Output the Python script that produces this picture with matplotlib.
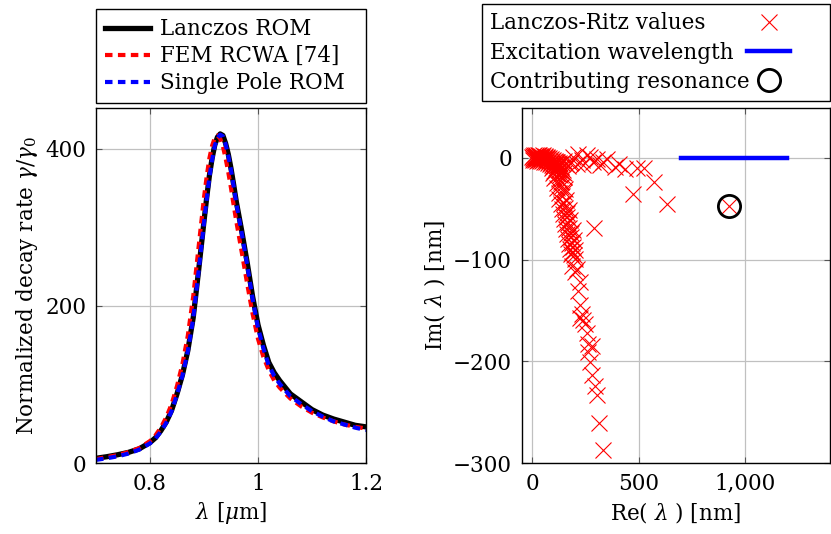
import numpy as np
import matplotlib
matplotlib.use('Agg')
import matplotlib.pyplot as plt
from matplotlib.ticker import FuncFormatter
from matplotlib.legend_handler import HandlerLine2D

# left panel: decay rate curves
lam_um = [0.70, 0.72, 0.74, 0.76, 0.78, 0.80, 0.81, 0.82, 0.83, 0.84, 0.85, 0.86,
          0.87, 0.88, 0.89, 0.90, 0.905, 0.91, 0.915, 0.92, 0.925, 0.93, 0.935, 0.94,
          0.945, 0.95, 0.955, 0.96, 0.97, 0.98, 0.99, 1.00, 1.01, 1.02, 1.03, 1.04,
          1.06, 1.08, 1.10, 1.12, 1.14, 1.16, 1.18, 1.20]
lanczos_rom = [6, 8, 10.5, 13.5, 18, 26, 32, 41, 52, 67, 88, 112,
               143, 185, 245, 308, 338, 366, 388, 405, 415, 419, 417, 407,
               393, 375, 354, 332, 295, 255, 212, 176, 150, 128, 115, 105,
               88, 78, 68, 61, 56, 52, 48, 46]
fem_rcwa = [5, 7.5, 10, 14, 19, 28, 35, 45, 58, 75, 98, 126,
            162, 212, 275, 338, 365, 388, 404, 414, 417, 413, 403, 388,
            370, 350, 328, 307, 268, 228, 190, 158, 135, 118, 105, 96,
            82, 72, 64, 58, 53, 49, 46, 44]
single_pole = [4, 6, 8.5, 12, 17, 25, 31, 40, 51, 66, 87, 111,
               142, 184, 244, 306, 336, 364, 386, 404, 414, 418, 416, 406,
               391, 373, 352, 330, 292, 252, 209, 172, 146, 124, 111, 101,
               85, 75, 66, 59, 53, 49, 45, 42]

# right panel: Lanczos-Ritz values (Re, Im) in nm, grouped by region of the cloud
wedge_re = [0, 3, 6, 10, 13, 16, 20, 24, 28, 32, 36, 40, 44, 48, 52, 56, 60, 64, 68, 72,
            76, 80, 85, 90, 95, 100, 105, 110, 115, 120, 150, 160, 170, 180,
            2, 8, 14, 18, 22, 26, 30, 34, 38, 42, 46, 50, 54, 58, 62, 66, 70, 74, 78, 82,
            88, 92, 98, 102, 108, 112, 118, 125]
wedge_im = [1, 0, 2, -1, 1, 0, 2, -1, 1, 0, 2, -1, 0, 1, -2, 0, 1, -1, -2, 0,
            -1, -3, -2, -4, -3, -5, -4, -6, -7, -8, -3, -6, -8, -5,
            -2, 3, -2, 3, -3, 3, -2, 3, -3, 2, -3, 3, -1, -4, 2, -4, 1, -5, 0, -6,
            -1, -7, -2, -8, -3, -10, -4, -5]
band_re = [90, 110, 130, 140, 95, 115, 135, 145, 100, 120, 140, 150, 105, 125, 150, 115, 135, 155,
           125, 142, 160, 140, 155, 172, 150, 165, 180, 160, 175, 190, 170, 183, 195, 180, 192, 200,
           100, 120, 105, 125, 110, 130, 118, 138, 128, 148, 135, 152, 145, 162, 155, 170, 165, 182,
           175, 188, 185, 196]
band_im = [-5, -4, -6, -5, -10, -11, -9, -12, -15, -16, -14, -15, -20, -21, -19, -30, -29, -31,
           -40, -38, -41, -50, -49, -51, -60, -58, -61, -70, -69, -71, -80, -78, -81, -90, -88, -91,
           -8, -7, -13, -12, -18, -17, -25, -24, -35, -34, -45, -44, -55, -54, -65, -64, -75, -74,
           -85, -84, -95, -96]
flat_re = [193, 233, 256, 288, 319, 350, 390, 437, 492, 524, 185, 217, 272, 303, 335, 406, 209, 240,
           571, 473, 634, 292]
flat_im = [1, -2, 3, -4, -7, -1, -9, -11, -10, -10, -4, 4, 1, -1, -4, -6, -6, -7,
           -24, -36, -45, -69]
tail_re = [186, 201, 186, 209, 201, 225, 217, 225, 233, 240, 225, 248, 256, 264, 280, 264, 272, 280,
           296, 303, 316, 332, 923]
tail_im = [-93, -99, -106, -109, -112, -122, -131, -145, -154, -159, -157, -163, -172, -183, -185,
           -191, -201, -213, -224, -233, -261, -287, -47]

exc_re = [700, 1200]
exc_im = [0, 0]
res_re = [923]
res_im = [-47]

plt.rcParams['font.family'] = 'DejaVu Serif'
plt.rcParams['mathtext.fontset'] = 'dejavuserif'
plt.rcParams['font.size'] = 15.5

fig = plt.figure(figsize=(8.31, 5.34), dpi=100)
W, H = 831, 534


class RightMarker(HandlerLine2D):
    # put the legend marker towards the right end of the handle box
    def get_xdata(self, legend, xdescent, ydescent, width, height, fontsize):
        xdata, _ = super().get_xdata(legend, xdescent, ydescent, width, height, fontsize)
        return xdata, np.array([-xdescent + 0.8 * width])


def style_axes(ax):
    ax.grid(True, color='#c0c0c0', linewidth=0.9)
    ax.set_axisbelow(True)
    ax.tick_params(direction='in', length=4, width=0.8, top=True, right=True,
                   color='#555555', pad=7)
    for s in ax.spines.values():
        s.set_linewidth(1.0)

# ---- left panel ----
ax1 = fig.add_axes([96 / W, (H - 463) / H, 270 / W, 355 / H])
ax1.plot(lam_um, lanczos_rom, color='black', linewidth=3.8, label='Lanczos ROM')
ax1.plot(lam_um, fem_rcwa, color='red', linewidth=3.0, dashes=(1.8, 1.3),
         label='FEM RCWA [74]')
ax1.plot(lam_um, single_pole, color='blue', linewidth=3.0, dashes=(1.8, 1.3),
         label='Single Pole ROM')
ax1.set_xlim(0.7, 1.2)
ax1.set_ylim(0, 452)
ax1.set_xticks([0.8, 1.0, 1.2])
ax1.set_yticks([0, 200, 400])
ax1.xaxis.set_major_formatter(FuncFormatter(lambda v, p: f'{v:g}'))
ax1.set_xlabel(r'$\lambda$ [$\mu$m]')
ax1.set_ylabel(r'Normalized decay rate $\gamma/\gamma_0$')
style_axes(ax1)
leg1 = ax1.legend(loc='lower left', bbox_to_anchor=(96 / W, (H - 103) / H, 270 / W, 95 / H),
                  bbox_transform=fig.transFigure, mode='expand', borderaxespad=0,
                  fancybox=False, edgecolor='black', framealpha=1,
                  handlelength=2.1, handletextpad=0.45, labelspacing=0.24, borderpad=0.4)
leg1.get_frame().set_linewidth(1.0)

# ---- right panel ----
ax2 = fig.add_axes([521.5 / W, (H - 463) / H, 308.5 / W, 355 / H])
mk = dict(color='red', linestyle='none', marker='x', markersize=11, markeredgewidth=0.8)
ritz_line, = ax2.plot(wedge_re, wedge_im, label='Lanczos-Ritz values', **mk)
ax2.plot(band_re, band_im, **mk)
ax2.plot(flat_re, flat_im, **mk)
ax2.plot(tail_re, tail_im, **mk)
ax2.plot(exc_re, exc_im, color='blue', linewidth=3.2, label='Excitation wavelength')
res_line, = ax2.plot(res_re, res_im, 'o', markersize=16, markerfacecolor='none',
                     markeredgecolor='black', markeredgewidth=2.0, label='Contributing resonance')
ax2.set_xlim(-50, 1400)
ax2.set_ylim(-300, 49)
ax2.set_xticks([0, 500, 1000])
ax2.set_yticks([0, -100, -200, -300])
ax2.xaxis.set_major_formatter(FuncFormatter(lambda v, p: f'{v:,.0f}'))
ax2.set_xlabel(r'Re( $\lambda$ ) [nm]')
ax2.set_ylabel(r'Im( $\lambda$ ) [nm]')
style_axes(ax2)
leg2 = ax2.legend(loc='lower left', bbox_to_anchor=(482 / W, (H - 101) / H, 348 / W, 97 / H),
                  bbox_transform=fig.transFigure, mode='expand', borderaxespad=0,
                  fancybox=False, edgecolor='black', framealpha=1, markerfirst=False,
                  handlelength=2.0, handletextpad=0.5, labelspacing=0.34, borderpad=0.38,
                  handler_map={ritz_line: RightMarker(), res_line: RightMarker()})
leg2.get_frame().set_linewidth(1.0)
# text left, marker pushed to the right inside each row
for col in leg2._legend_handle_box.get_children():
    for row in col.get_children():
        row.mode = 'expand'
        row.width = 300

fig.savefig('out.png', dpi=100)
